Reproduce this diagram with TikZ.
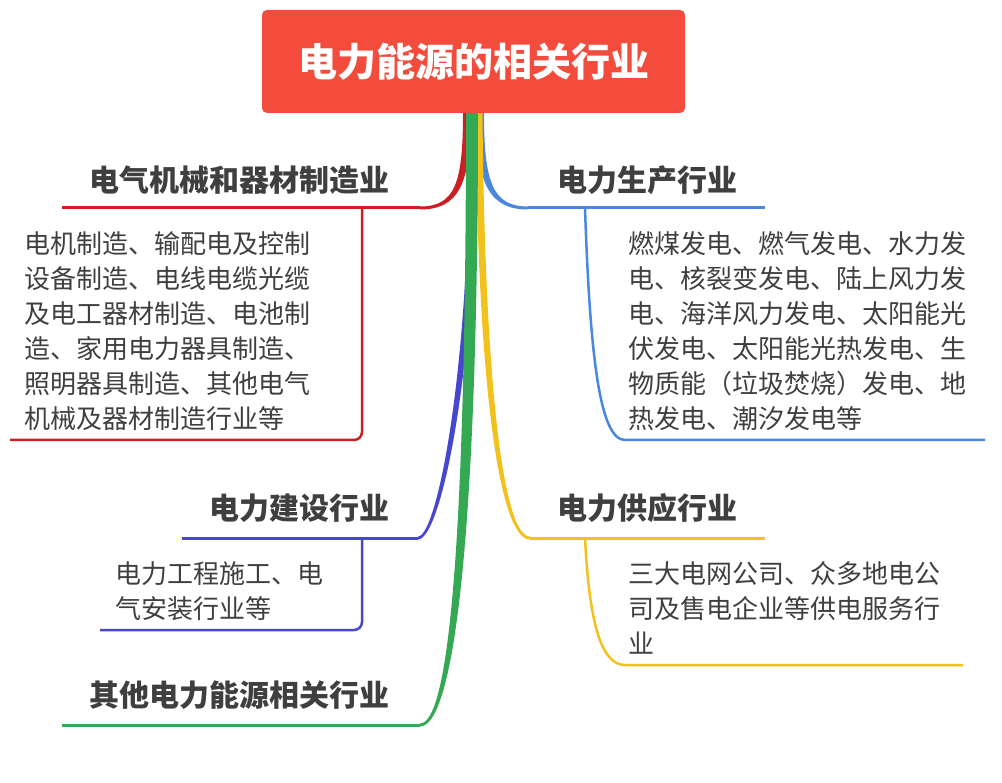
\documentclass[tikz,border=0pt]{standalone}
\usepackage{fontspec}
\setmainfont{Noto Sans CJK SC}
\usetikzlibrary{calc}
\definecolor{rootred}{HTML}{F44C3C}
\definecolor{redline}{HTML}{CC1F24}
\definecolor{blueline}{HTML}{4A88DF}
\definecolor{violetline}{HTML}{4646CF}
\definecolor{yellowline}{HTML}{F3C11B}
\definecolor{greenline}{HTML}{34A853}
\definecolor{textgray}{HTML}{3F3F3F}

\begin{document}
\begin{tikzpicture}[x=1pt, y=-1pt,
    root/.style = {rectangle, rounded corners=5pt, fill=rootred,
                   minimum width=423pt, minimum height=103pt,
                   text=white, font=\fontsize{39}{39}\selectfont\bfseries},
    topic/.style = {inner sep=0pt, text=textgray,
                    font=\fontsize{30}{30}\selectfont\bfseries},
    detail/.style = {inner sep=0pt, text=textgray, align=left,
                     font=\fontsize{26}{35}\selectfont},
    stem/.style = {line width=3pt},
    leg/.style = {line width=2.5pt, rounded corners=8pt}]
  \useasboundingbox (0,0) rectangle (1002,783);
  \node (root) [root] at (473.5,61.5) {电力能源的相关行业};

  % branch points
  \coordinate (r0) at ($(root.south)+(-6.5,0)$);
  \coordinate (b0) at ($(root.south)+(6.5,0)$);
  \coordinate (p0) at ($(root.south)+(-1.5,0)$);
  \coordinate (y0) at ($(root.south)+(5.5,0)$);
  \coordinate (g0) at ($(root.south)+(-1.5,0)$);
  \coordinate (r1) at (420,208); \coordinate (r2) at (62,208);
  \coordinate (b1) at (528,208); \coordinate (b2) at (765,208);
  \coordinate (p1) at (418,538); \coordinate (p2) at (182,538);
  \coordinate (y1) at (530,538); \coordinate (y2) at (765,538);
  \coordinate (g1) at (420,725); \coordinate (g2) at (62,725);
  \coordinate (r3) at (362,208); \coordinate (r4) at (362,440); \coordinate (r5) at (10,440);
  \coordinate (b3) at (585,208); \coordinate (b4) at (625,440); \coordinate (b5) at (985,440);
  \coordinate (p3) at (362,538); \coordinate (p4) at (362,630); \coordinate (p5) at (100,630);
  \coordinate (y3) at (585,538); \coordinate (y4) at (625,665); \coordinate (y5) at (963,665);

  % red
  \fill[redline] ($(r0)+(-4,0)$) .. controls +(0,70) and +(35,0) .. ($(r1)+(0,-1.5)$)
    -- ($(r1)+(0,1.5)$) .. controls +(38,0) and +(0,72) .. ($(r0)+(4,0)$) -- cycle;
  \draw[stem, redline] (r1) -- (r2);
  \draw[leg, redline] (r3) -- (r4) -- (r5);
  % blue
  \fill[blueline] ($(b0)+(-4,0)$) .. controls +(0,72) and +(-38,0) .. ($(b1)+(0,1.5)$)
    -- ($(b1)+(0,-1.5)$) .. controls +(-35,0) and +(0,70) .. ($(b0)+(4,0)$) -- cycle;
  \draw[stem, blueline] (b1) -- (b2);
  \draw[line width=2.5pt, blueline] (b3) .. controls +(5,150) and +(-25,0) .. (b4) -- (b5);
  % violet
  \fill[violetline] ($(p0)+(-3.5,0)$) .. controls +(4,240) and +(20,0) .. ($(p1)+(0,-1.5)$)
    -- ($(p1)+(0,1.5)$) .. controls +(24,0) and +(4,242) .. ($(p0)+(3.5,0)$) -- cycle;
  \draw[stem, violetline] (p1) -- (p2);
  \draw[leg, violetline] (p3) -- (p4) -- (p5);
  % yellow
  \fill[yellowline] ($(y0)+(-3.5,0)$) .. controls +(2,262) and +(-32,0) .. ($(y1)+(0,1.5)$)
    -- ($(y1)+(0,-1.5)$) .. controls +(-28,0) and +(2,258) .. ($(y0)+(3.5,0)$) -- cycle;
  \draw[stem, yellowline] (y1) -- (y2);
  \draw[line width=2.5pt, yellowline] (y3) .. controls +(4,80) and +(-25,0) .. (y4) -- (y5);
  % green
  \fill[greenline] ($(g0)+(-6,0)$) .. controls +(0,440) and +(28,0) .. ($(g1)+(0,-1.5)$)
    -- ($(g1)+(0,1.5)$) .. controls +(32,0) and +(0,442) .. ($(g0)+(6,0)$) -- cycle;
  \draw[stem, greenline] (g1) -- (g2);

  \node (manu) [topic, anchor=east] at (390,180) {电气机械和器材制造业};
  \node (prod) [topic, anchor=west] at (557,180) {电力生产行业};
  \node (build) [topic, anchor=east] at (390,508) {电力建设行业};
  \node (supply) [topic, anchor=west] at (557,508) {电力供应行业};
  \node (other) [topic, anchor=east] at (390,695) {其他电力能源相关行业};

  \node (manutext) [detail, anchor=north west] at (24,231)
    {电机制造、输配电及控制\\设备制造、电线电缆光缆\\及电工器材制造、电池制\\造、家用电力器具制造、\\照明器具制造、其他电气\\机械及器材制造行业等};
  \node (prodtext) [detail, anchor=north west] at (628,231)
    {燃煤发电、燃气发电、水力发\\电、核裂变发电、陆上风力发\\电、海洋风力发电、太阳能光\\伏发电、太阳能光热发电、生\\物质能（垃圾焚烧）发电、地\\热发电、潮汐发电等};
  \node (buildtext) [detail, anchor=north west] at (115,561)
    {电力工程施工、电\\气安装行业等};
  \node (supplytext) [detail, anchor=north west] at (628,561)
    {三大电网公司、众多地电公\\司及售电企业等供电服务行\\业};
\end{tikzpicture}
\end{document}
